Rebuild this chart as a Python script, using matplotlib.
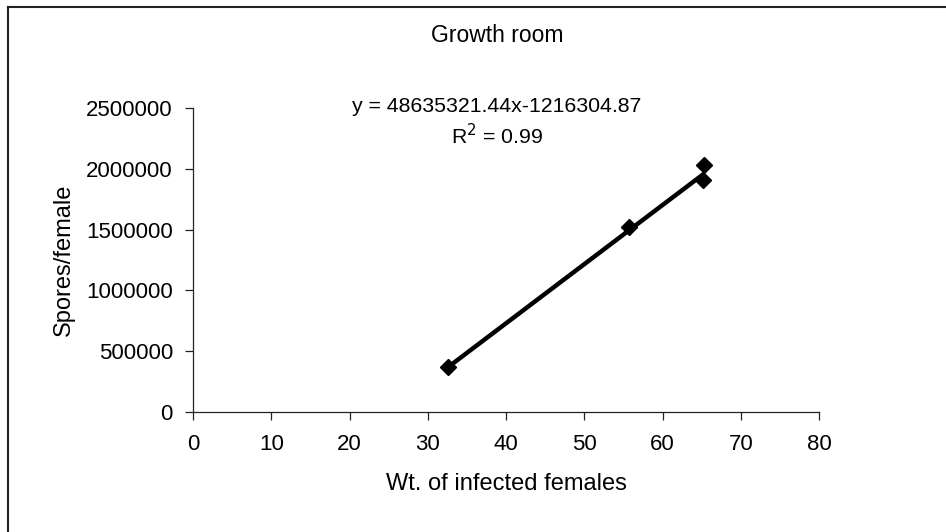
import numpy as np
import matplotlib
matplotlib.use("Agg")
import matplotlib.pyplot as plt
from matplotlib.lines import Line2D

plt.rcParams['font.family'] = ['Liberation Sans', 'DejaVu Sans']

# Measurements
weight = [32.6, 55.7, 65.3, 65.2]           # Wt. of infected females
spores = [372500, 1521000, 2031000, 1908000]  # Spores/female

# Linear trend (x expressed in thousandths of the plotted unit)
slope = 48635321.44
intercept = -1216304.87
r_squared = 0.99

x_ticks = [0, 10, 20, 30, 40, 50, 60, 70, 80]
y_ticks = [0, 500000, 1000000, 1500000, 2000000, 2500000]

W, H = 946, 532
fig = plt.figure(figsize=(W / 100, H / 100), dpi=100)
ax = fig.add_axes([193 / W, 1 - 412 / H, (819 - 193) / W, (412 - 108) / H])

# trend line across the data range
xs = np.array([min(weight), max(weight)])
ax.plot(xs, slope * xs / 1000 + intercept, color='black', lw=3.2,
        solid_capstyle='butt', zorder=2)
ax.plot(weight, spores, linestyle='none', marker='D', ms=8.5,
        color='black', zorder=3)

ax.set_xlim(0, 80)
ax.set_ylim(0, 2500000)
ax.set_xticks(x_ticks)
ax.set_yticks(y_ticks)
ax.set_xticklabels([str(v) for v in x_ticks])
ax.set_yticklabels([str(v) for v in y_ticks])
ax.tick_params(direction='out', length=5.5, width=0.9, labelsize=16,
               colors='#222222', labelcolor='black')
ax.tick_params(axis='y', pad=9)
ax.tick_params(axis='x', pad=10)
for side in ('top', 'right'):
    ax.spines[side].set_visible(False)
for side in ('left', 'bottom'):
    ax.spines[side].set_color('#222222')
    ax.spines[side].set_linewidth(0.9)

ax.set_xlabel('Wt. of infected females', fontsize=17, labelpad=13)
ax.set_ylabel('Spores/female', fontsize=17, labelpad=8)

fig.text(497 / W, 1 - 36 / H, 'Growth room', ha='center', va='center', fontsize=16.5)
fig.text(497 / W, 1 - 106 / H, f'y = {slope:.2f}x{intercept:.2f}',
         ha='center', va='center', fontsize=15.3)
fig.text(497 / W, 1 - 136 / H, f'R$^2$ = {r_squared:.2f}',
         ha='center', va='center', fontsize=15.3)

# outer chart frame (left and top edges)
fig.add_artist(Line2D([7.5 / W, 7.5 / W], [0, 1 - 6.5 / H], color='#222222', lw=1.5,
                      transform=fig.transFigure))
fig.add_artist(Line2D([7.5 / W, 1], [1 - 6.5 / H, 1 - 6.5 / H], color='#222222', lw=1.5,
                      transform=fig.transFigure))

fig.savefig('out.png', dpi=100)
